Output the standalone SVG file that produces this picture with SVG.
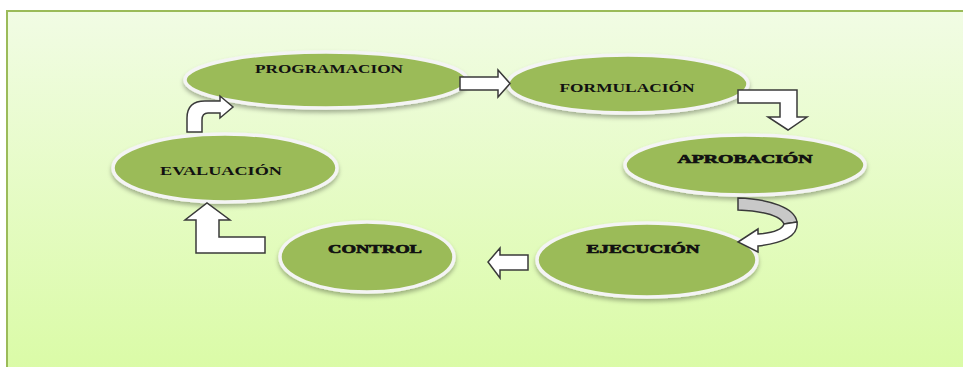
<svg xmlns="http://www.w3.org/2000/svg" width="963" height="367" viewBox="0 0 963 367">
<defs>
<linearGradient id="bg" x1="0" y1="0" x2="0" y2="1">
<stop offset="0" stop-color="#f1fce4"/>
<stop offset="1" stop-color="#dafba6"/>
</linearGradient>
<filter id="sh" x="-10%" y="-20%" width="120%" height="150%">
<feDropShadow dx="0" dy="3" stdDeviation="2" flood-color="#000" flood-opacity="0.3"/>
</filter>
<style>
.node{fill:#9bbb59;stroke:#f4f4f4;stroke-width:3.5;filter:url(#sh)}
.lbl{font-family:"Liberation Serif","DejaVu Serif",serif;font-weight:bold;font-size:13px;fill:#111;text-anchor:middle}
.heavy{stroke:#111;stroke-width:0.7}
.arr{fill:#ffffff;stroke:#3a3a3a;stroke-width:1.5;stroke-linejoin:miter}
</style>
</defs>
<rect x="0" y="0" width="963" height="367" fill="#ffffff"/>
<rect x="7" y="11" width="962" height="362" fill="url(#bg)" stroke="#9bbb59" stroke-width="2"/>

<g id="programacion">
<ellipse class="node" cx="326" cy="80" rx="141" ry="28"/>
<text class="lbl" x="329" y="73" textLength="148" lengthAdjust="spacingAndGlyphs">PROGRAMACION</text>
</g>
<g id="formulacion">
<ellipse class="node" cx="628" cy="84" rx="120" ry="29"/>
<text class="lbl" x="627" y="92" textLength="135" lengthAdjust="spacingAndGlyphs">FORMULACIÓN</text>
</g>
<g id="aprobacion">
<ellipse class="node" cx="745" cy="165" rx="120" ry="30"/>
<text class="lbl heavy" x="745" y="163" font-size="14" textLength="135" lengthAdjust="spacingAndGlyphs">APROBACIÓN</text>
</g>
<g id="evaluacion">
<ellipse class="node" cx="225" cy="168" rx="112" ry="34"/>
<text class="lbl" x="221" y="175" textLength="122" lengthAdjust="spacingAndGlyphs">EVALUACIÓN</text>
</g>
<g id="control">
<ellipse class="node" cx="367" cy="257" rx="87" ry="35"/>
<text class="lbl heavy" x="375" y="253" font-size="14" textLength="94" lengthAdjust="spacingAndGlyphs">CONTROL</text>
</g>
<g id="ejecucion">
<ellipse class="node" cx="647" cy="260" rx="110" ry="37"/>
<text class="lbl heavy" x="643" y="253" font-size="14" textLength="113" lengthAdjust="spacingAndGlyphs">EJECUCIÓN</text>
</g>

<g id="connectors">
<path class="arr" d="M460,77 L498,77 L498,70 L510,83.5 L498,97 L498,90 L460,90 Z"/>
<path class="arr" d="M738,90 L797,90 L797,117 L807,117 L788,130 L768,117 L780,117 L780,103 L738,103 Z"/>
<path d="M738,198 C770,199 795,208 797,222 L784,224 C780,215 760,211 738,210 Z" fill="#c8c8c8" stroke="#3a3a3a" stroke-width="1.5"/>
<path class="arr" d="M797,222 C799,236 783,243 758,246 L758,252 L738,242 L758,229 L758,234 C772,233 782,230 784,224 Z"/>
<path class="arr" d="M528,255 L500,255 L500,248 L488,262 L500,278 L500,270 L528,270 Z"/>
<path class="arr" d="M265,237 L219,237 L219,220 L230,220 L207,203 L185,220 L196,220 L196,253 L265,253 Z"/>
<path class="arr" d="M187,132 L187,118 Q187,101 205,101 L220,101 L220,96 L233,107 L220,118 L220,113 L208,113 Q202,113 202,120 L202,132 Z"/>
</g>
</svg>
